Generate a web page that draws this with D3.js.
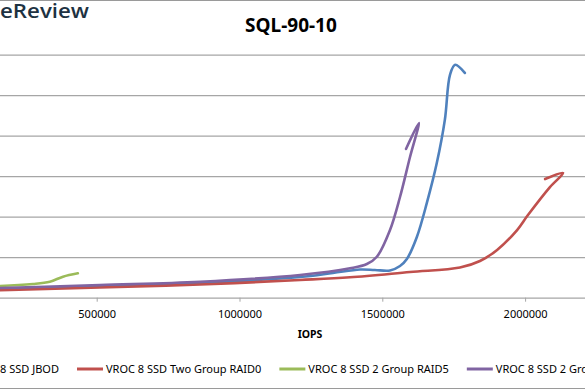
<!DOCTYPE html>
<html>
<head>
<meta charset="utf-8">
<script src="https://cdn.jsdelivr.net/npm/d3@7"></script>
<style>
  body { margin: 0; background: #fff; }
  svg { display: block; font-family: "Noto Sans", "Open Sans", sans-serif; }
</style>
</head>
<body>
<svg width="585" height="390"></svg>
<script>
// values (IOPS vs average latency, ms)
const seriesNames = ["VROC 8 SSD JBOD", "VROC 8 SSD Two Group RAID0", "VROC 8 SSD 2 Group RAID5", "VROC 8 SSD 2 Group RAID10"];
const seriesColors = ["#4f81bd", "#c0504d", "#9bbb59", "#8064a2"];

const jbodIops = [56000, 511000, 862000, 1212000, 1327000, 1422000, 1474000, 1527000, 1562000, 1586000, 1621000, 1656000, 1691000, 1719000, 1737000, 1755000, 1789000];
const jbodLat = [0.195, 0.277, 0.363, 0.511, 0.61, 0.696, 0.684, 0.672, 0.783, 0.956, 1.5, 2.34, 3.33, 4.39, 5.5, 5.75, 5.55];

const raid0Iops = [56000, 196000, 511000, 862000, 1212000, 1387000, 1597000, 1772000, 1842000, 1902000, 1972000, 2010000, 2087000, 2133000, 2070000];
const raid0Lat = [0.165, 0.19, 0.252, 0.326, 0.437, 0.504, 0.635, 0.746, 0.906, 1.18, 1.67, 2.04, 2.73, 3.08, 2.93];

const raid5Iops = [56000, 161000, 277000, 336000, 382000, 434000];
const raid5Lat = [0.277, 0.289, 0.338, 0.395, 0.519, 0.602];

const raid10Iops = [56000, 511000, 862000, 1212000, 1387000, 1446000, 1481000, 1527000, 1562000, 1597000, 1628000, 1583000];
const raid10Lat = [0.215, 0.314, 0.395, 0.56, 0.726, 0.832, 1.012, 1.672, 2.486, 3.474, 4.314, 3.672];

// only the ticks inside the cropped view carry labels
const xTicks = [500000, 1000000, 1500000, 2000000];
const yTicks = [1, 2, 3, 4, 5, 6];

const svg = d3.select("svg");
const W = 585, H = 390;

svg.append("rect").attr("width", W).attr("height", H).attr("fill", "#fff");

// plot area partly outside the window (the reference is cropped)
const x = d3.scaleLinear().domain([0, 2500000]).range([-46.1, 667.9]);
const y = d3.scaleLinear().domain([0, 6]).range([297.7, 54.7]);

// gridlines
svg.append("g")
  .attr("transform", `translate(${x(0)},0)`)
  .call(d3.axisLeft(y).tickValues(yTicks).tickSize(-(x(2500000) - x(0))).tickFormat(""))
  .call(g => g.select(".domain").remove())
  .selectAll("line").attr("stroke", "#a6a6a6").attr("stroke-width", 1.2);

// x axis
const xAxis = svg.append("g")
  .attr("transform", `translate(0,${y(0)})`)
  .call(d3.axisBottom(x).tickValues(xTicks).tickSize(4).tickPadding(9).tickFormat(d3.format("d")));
xAxis.select(".domain").attr("stroke", "#a6a6a6").attr("stroke-width", 1.2);
xAxis.selectAll(".tick line").attr("stroke", "#a6a6a6");
xAxis.selectAll("text").attr("font-size", "11px").attr("fill", "#000").attr("font-family", "Noto Sans");

const line = d3.line()
  .x(d => x(d[0]))
  .y(d => y(d[1]))
  .curve(d3.curveCatmullRom.alpha(0.5));

const series = [
  [jbodIops, jbodLat],
  [raid0Iops, raid0Lat],
  [raid5Iops, raid5Lat],
  [raid10Iops, raid10Lat]
];

series.forEach((s, i) => {
  svg.append("path")
    .datum(s[0].map((v, j) => [v, s[1][j]]))
    .attr("d", line)
    .attr("fill", "none")
    .attr("stroke", seriesColors[i])
    .attr("stroke-width", 2.6)
    .attr("stroke-linecap", "round")
    .attr("stroke-linejoin", "round");
});

// title
svg.append("text")
  .text("SQL-90-10")
  .attr("x", 291)
  .attr("y", 31.7)
  .attr("text-anchor", "middle")
  .attr("font-size", "19px")
  .attr("font-weight", "bold")
  .attr("fill", "#000");

// x axis title
svg.append("text")
  .text("IOPS")
  .attr("x", 310)
  .attr("y", 338)
  .attr("text-anchor", "middle")
  .attr("font-size", "10.5px")
  .attr("font-weight", "bold");

// logo watermark (only its tail is in view)
svg.append("text")
  .text("eReview")
  .attr("x", 0)
  .attr("y", 17.5)
  .attr("textLength", 89)
  .attr("lengthAdjust", "spacingAndGlyphs")
  .attr("font-family", "Open Sans")
  .attr("font-size", "19px")
  .attr("font-weight", 600)
  .attr("fill", "#1d3242");

// legend
const legY = 369;
const leg = svg.append("g");
const items = seriesNames.map((n, i) => {
  const g = leg.append("g");
  g.append("line").attr("y1", legY).attr("y2", legY)
    .attr("stroke", seriesColors[i]).attr("stroke-width", 3);
  const t = g.append("text").text(n).attr("y", legY + 4)
    .attr("font-size", "11px").attr("fill", "#000");
  return { g, t, w: t.node().getComputedTextLength() };
});
// red entry starts at x=77; others laid out around it
let pos = 77;
for (let i = 1; i < items.length; i++) {
  const it = items[i];
  it.g.select("line").attr("x1", pos).attr("x2", pos + 26);
  it.t.attr("x", pos + 29);
  pos = pos + 29 + it.w + 18;
}
const first = items[0];
const tEnd = 77 - 18;
first.t.attr("x", tEnd - first.w);
first.g.select("line").attr("x1", tEnd - first.w - 29).attr("x2", tEnd - first.w - 3);

// chart area border
svg.append("line").attr("x1", 0).attr("x2", W).attr("y1", 0.5).attr("y2", 0.5).attr("stroke", "#9a9a9a");
svg.append("line").attr("x1", 0).attr("x2", W).attr("y1", 388.5).attr("y2", 388.5).attr("stroke", "#9a9a9a");
</script>
</body>
</html>
